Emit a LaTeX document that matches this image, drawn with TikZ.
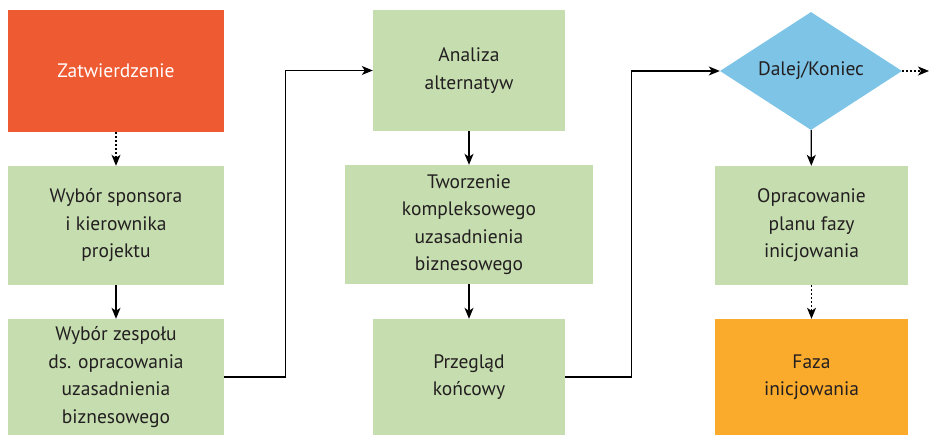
\documentclass[tikz,border=0pt]{standalone}
\usepackage{fontspec}
\setmainfont{PT Sans}
\usepackage{xcolor}
\usetikzlibrary{shapes.geometric, arrows, arrows.meta, positioning}

\definecolor{zielony}{HTML}{C5DDAF}
\definecolor{czerwony}{HTML}{EE5A32}
\definecolor{pomarancz}{HTML}{FBAB2B}
\definecolor{niebieski}{HTML}{7DC4E7}
\definecolor{tekst}{HTML}{231F20}

\begin{document}
\begin{tikzpicture}[
    x=1pt, y=1pt,
    font=\fontsize{19.5}{27.5}\selectfont,
    blok/.style={rectangle, fill=zielony, text=tekst, align=center, inner sep=0pt},
    decyzja/.style={diamond, fill=niebieski, text=tekst, aspect=1.54, inner sep=0pt, minimum width=182pt, minimum height=118pt},
    arrow/.style={-{Stealth[length=11pt, width=9pt, inset=3pt]}, line width=1.2pt, black},
    dotarrow/.style={arrow, dash pattern=on 2pt off 2pt}
]
\useasboundingbox (0,0) rectangle (929,-435);

\node[blok, fill=czerwony, text=white, minimum width=216pt, minimum height=122pt] (zatw) at (116,-71) {Zatwierdzenie};
\node[blok, minimum width=216pt, minimum height=119pt] (sponsor) at (116,-225.5) {Wybór sponsora\\i kierownika\\projektu};
\node[blok, minimum width=216pt, minimum height=116pt] (zespol) at (116,-377) {Wybór zespołu\\ds. opracowania\\uzasadnienia\\biznesowego};

\node[blok, minimum width=192pt, minimum height=121pt] (analiza) at (469,-70.5) {Analiza\\alternatyw};
\node[blok, minimum width=248pt, minimum height=119pt] (tworz) at (469,-224.5) {Tworzenie\\kompleksowego\\uzasadnienia\\biznesowego};
\node[blok, minimum width=192pt, minimum height=116pt] (przeglad) at (469,-377) {Przegląd\\końcowy};

\node[decyzja] (dalej) at (811,-71) {Dalej/Koniec};
\node[blok, minimum width=193pt, minimum height=119pt] (oprac) at (811.5,-225.5) {Opracowanie\\planu fazy\\inicjowania};
\node[blok, fill=pomarancz, minimum width=193pt, minimum height=116pt] (faza) at (811.5,-377) {Faza\\inicjowania};

\coordinate (wyjscie) at (929,-71);

\draw[dotarrow] (zatw) -- (sponsor);
\draw[arrow] (sponsor) -- (zespol);
\draw[arrow] (zespol.east) -- ++(61,0) |- (analiza.west);
\draw[arrow] (analiza) -- (tworz);
\draw[arrow] (tworz) -- (przeglad);
\draw[arrow] (przeglad.east) -- ++(66,0) |- (dalej.west);
\draw[arrow] (dalej) -- (oprac);
\draw[dotarrow] (oprac) -- (faza);
\draw[dotarrow] (dalej.east) -- (wyjscie);

\end{tikzpicture}
\end{document}
